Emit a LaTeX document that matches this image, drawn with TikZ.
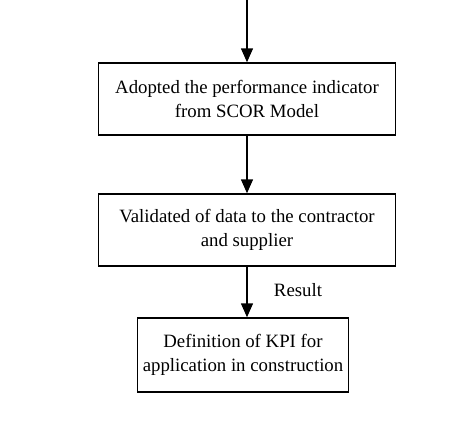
\documentclass[tikz,border=0pt]{standalone}
\usepackage{fontspec}
\setmainfont{Liberation Serif}
\usetikzlibrary{positioning,arrows.meta}

\begin{document}
\begin{tikzpicture}[x=1pt, y=-1pt,
    stepbox/.style={draw, line width=1.4pt, minimum width=297pt, minimum height=72pt, align=center, font=\fontsize{18.8}{24}\selectfont},
    flow/.style={-{Triangle[width=12pt,length=14pt]}, line width=1.4pt}]
    \useasboundingbox (0,0) rectangle (451,437);

    % steps of the method
    \node[stepbox] (adopt) at (247,99) {Adopted the performance indicator\\from SCOR Model};
    \node[stepbox] (valid) at (247,230) {Validated of data to the contractor\\and supplier};
    \node[stepbox, minimum width=211pt, minimum height=74pt] (kpi) at (243,355) {Definition of KPI for\\application in construction};
    \node[font=\fontsize{18.8}{22}\selectfont] (res) at (298,290) {Result};

    % arrows
    \coordinate (start) at (247,0);
    \draw[flow] (start) -- (adopt.north);
    \draw[flow] (adopt.south) -- (valid.north);
    \draw[flow] (valid.south) -- (valid.south |- kpi.north);
\end{tikzpicture}
\end{document}
